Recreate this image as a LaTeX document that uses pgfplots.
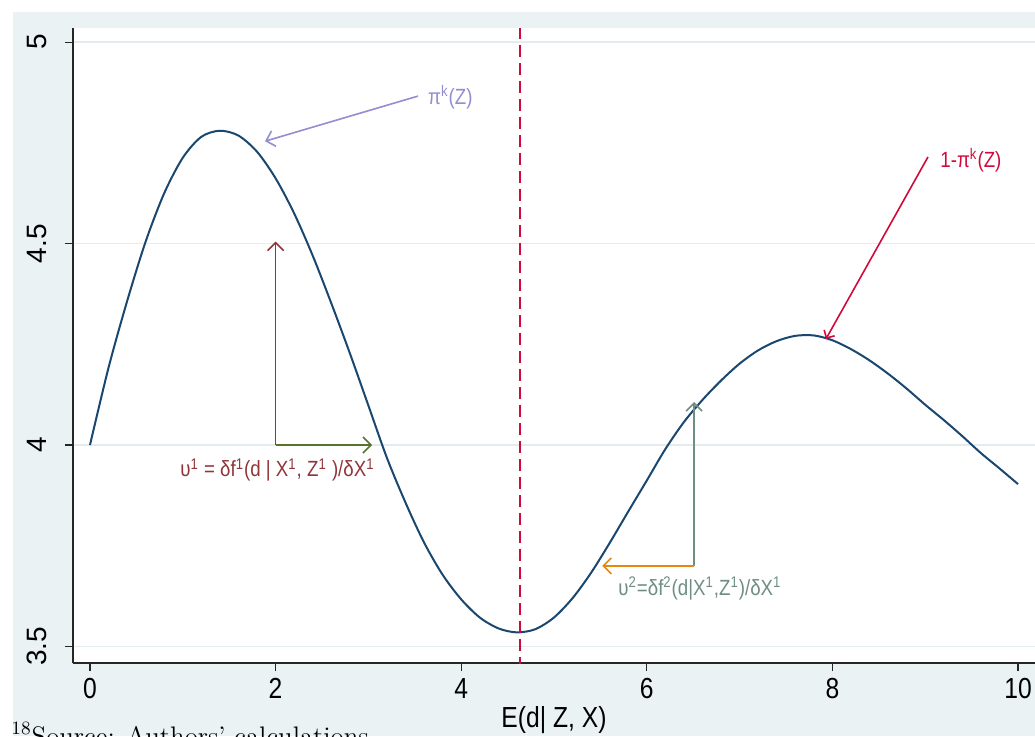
\documentclass[border=0pt]{standalone}
\usepackage{pgfplots}
\pgfplotsset{compat=1.18}
\usepackage{fontspec}
\newfontfamily\sans{Liberation Sans}
\newfontfamily\narrow[FakeStretch=0.85]{Liberation Sans}
\usetikzlibrary{arrows.meta}

\definecolor{bgblue}{RGB}{234,242,243}
\definecolor{gridc}{RGB}{228,236,239}
\definecolor{navy}{RGB}{26,71,111}
\definecolor{maroonc}{RGB}{144,53,59}
\definecolor{forest}{RGB}{85,117,47}
\definecolor{dkorange}{RGB}{232,135,14}
\definecolor{tealc}{RGB}{110,142,132}
\definecolor{lav}{RGB}{147,141,210}
\definecolor{cranb}{RGB}{209,10,60}

\begin{document}
\begin{tikzpicture}
% graph region
\fill[white] (-36.5pt,-36.5pt) rectangle (481pt,331.5pt);
\fill[bgblue] (-30pt,-36.5pt) rectangle (481pt,325.5pt);

\begin{axis}[
    name=ax,
    at={(0pt,0pt)}, anchor=south west,
    scale only axis,
    width=481pt, height=317.5pt,
    xmin=-0.183, xmax=10.183,
    ymin=3.459, ymax=5.035,
    axis x line*=bottom, axis y line*=left,
    axis line style={black!85, line width=0.6pt},
    axis background/.style={fill=white},
    xtick={0,2,4,6,8,10},
    ytick={3.5,4,4.5,5},
    tick align=outside,
    major tick length=4pt,
    tick style={black!85, line width=0.6pt},
    ymajorgrids,
    grid style={gridc, line width=0.7pt},
    /pgf/number format/assume math mode=true,
    xticklabel style={font=\narrow\fontsize{14.5}{16}\selectfont},
    yticklabel shift=5.5pt,
    yticklabel style={font=\sans\fontsize{14}{16}\selectfont, rotate=90, anchor=south},
    xlabel={E(d| Z, X)},
    xlabel style={font=\narrow\fontsize{14.5}{16}\selectfont, yshift=3pt},
]
% fitted curve
\addplot[navy, line width=1pt, smooth] coordinates {
 (0.0,4.000) (0.2,4.192) (0.4,4.357) (0.6,4.505) (0.8,4.625)
 (1.0,4.713) (1.2,4.765) (1.4,4.780) (1.6,4.768) (1.8,4.728)
 (2.0,4.662) (2.2,4.575) (2.4,4.470) (2.6,4.352) (2.8,4.228)
 (3.0,4.098) (3.2,3.968) (3.4,3.857) (3.6,3.758) (3.8,3.678)
 (4.0,3.617) (4.2,3.572) (4.4,3.545) (4.6,3.535) (4.8,3.543)
 (5.0,3.572) (5.2,3.620) (5.4,3.683) (5.6,3.757) (5.8,3.835)
 (6.0,3.912) (6.2,3.990) (6.4,4.057) (6.6,4.112) (6.8,4.160)
 (7.0,4.202) (7.2,4.235) (7.4,4.258) (7.6,4.271) (7.8,4.272)
 (8.0,4.260) (8.2,4.238) (8.4,4.210) (8.6,4.177) (8.8,4.140)
 (9.0,4.100) (9.2,4.062) (9.4,4.022) (9.6,3.980) (9.8,3.942)
 (10.0,3.903)
};
% vertical reference line
\addplot[cranb, line width=1pt, dash pattern=on 6pt off 3pt] coordinates {(4.634,3.40) (4.634,5.10)};

% annotation arrows
\addplot[lav, line width=0.8pt, -{Straight Barb[length=4pt]}] coordinates {(3.534,4.866) (1.886,4.754)};
\addplot[cranb, line width=0.8pt, -{Straight Barb[length=3pt]}] coordinates {(9.03,4.715) (7.93,4.263)};
\addplot[maroonc, line width=0.8pt, -{Straight Barb[length=4pt]}] coordinates {(2.0,4.0) (2.0,4.505)};
\addplot[forest, line width=0.8pt, -{Straight Barb[length=4pt]}] coordinates {(2.0,4.0) (3.04,4.0)};
\addplot[tealc, line width=0.8pt, -{Straight Barb[length=4pt]}] coordinates {(6.51,3.70) (6.51,4.107)};
\addplot[dkorange, line width=0.8pt, -{Straight Barb[length=4pt]}] coordinates {(6.51,3.70) (5.52,3.70)};

% annotation texts
\node[anchor=west, text=lav, font=\narrow\fontsize{11}{13}\selectfont, inner sep=0pt] at (axis cs:3.64,4.864) {π\textsuperscript{k}(Z)};
\node[anchor=west, text=cranb, font=\narrow\fontsize{11}{13}\selectfont, inner sep=0pt] at (axis cs:9.16,4.707) {1-π\textsuperscript{k}(Z)};
\node[anchor=west, text=maroonc, font=\narrow\fontsize{11}{13}\selectfont, inner sep=0pt] at (axis cs:0.97,3.938) {υ\textsuperscript{1} = δf\textsuperscript{1}(d | X\textsuperscript{1}, Z\textsuperscript{1} )/δX\textsuperscript{1}};
\node[anchor=west, text=tealc, font=\narrow\fontsize{11}{13}\selectfont, inner sep=0pt] at (axis cs:5.69,3.645) {υ\textsuperscript{2}=δf\textsuperscript{2}(d|X\textsuperscript{1},Z\textsuperscript{1})/δX\textsuperscript{1}};
\end{axis}

% note below the graph (cut by the page edge, as in the reference)
\node[anchor=base west, inner sep=0pt, font=\fontsize{13.4}{15}\selectfont] at (-31pt,-41pt) {\textsuperscript{18}Source: Authors' calculations};

\pgfresetboundingbox
\path (-36.5pt,-36.5pt) rectangle (481pt,331.5pt);
\end{tikzpicture}
\end{document}
